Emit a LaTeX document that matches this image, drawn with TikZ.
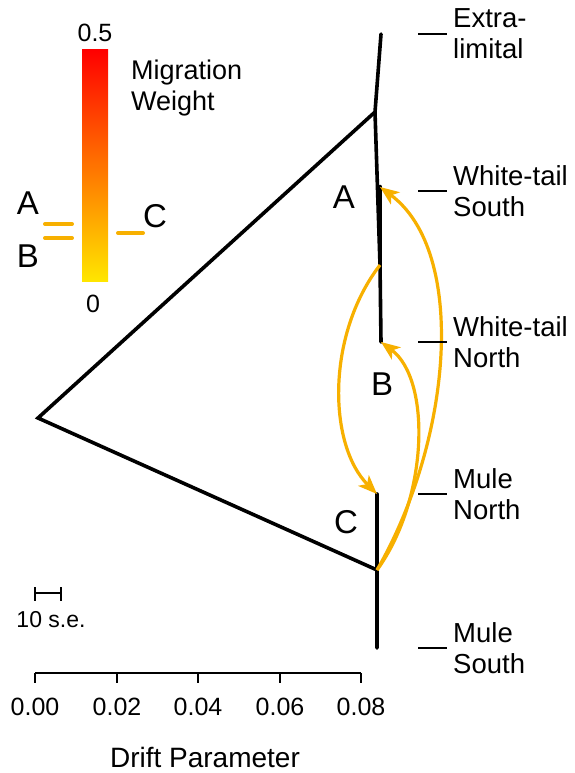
\documentclass[tikz,border=0pt]{standalone}
\usepackage{fontspec}
\setmainfont{Liberation Sans}
\usetikzlibrary{arrows.meta}
\definecolor{migorange}{RGB}{247,176,0}
\definecolor{barred}{RGB}{255,0,0}
\definecolor{barmid}{RGB}{255,118,0}
\definecolor{baryellow}{RGB}{255,230,0}

\begin{document}
\begin{tikzpicture}[x=1pt,y=-1pt,
    branch/.style={line width=3.6pt,line cap=round},
    mig/.style={line width=3.2pt,migorange,-{Stealth[length=19pt,width=15pt,inset=5pt]}},
    tipbar/.style={line width=2.6pt},
    tiplab/.style={anchor=west,align=left,inner sep=0pt,font=\fontsize{27.5}{31}\selectfont},
    letter/.style={inner sep=0pt,font=\fontsize{33}{35}\selectfont}]
        \useasboundingbox (0,0) rectangle (574,773);
        % tree
        \coordinate (root) at (38,418);
        \coordinate (nA) at (375,112);
        \coordinate (nW) at (380,265);
        \coordinate (nC) at (377,570);
        \coordinate (ext) at (381,34);
        \coordinate (wts) at (380,187);
        \coordinate (wtn) at (381,342);
        \coordinate (mn) at (377,494);
        \coordinate (ms) at (377,648);
        \draw[branch] (ext) -- (nA) -- (root) -- (nC) -- (ms);
        \draw[branch] (nA) -- (nW) -- (wtn);
        \draw[branch,line width=4.6pt] (nW) -- (wts);
        \draw[branch] (nC) -- (mn);
        \node[letter] (labA) at (344,197) {A};
        \node[letter] (labB) at (382,384) {B};
        \node[letter] (labC) at (346,522) {C};
        % migration edges
        \draw[mig] (nC) .. controls (452,440) and (468,252) .. (wts);
        \draw[mig] (nC) .. controls (428,500) and (432,380) .. (wtn);
        \draw[mig] (nW) .. controls (326,335) and (328,445) .. (mn);
        % tip labels
        \node[tiplab] (tipext) at (453,34) {Extra-\\limital};
        \node[tiplab] (tipwts) at (453,191) {White-tail\\South};
        \node[tiplab] (tipwtn) at (453,342) {White-tail\\North};
        \node[tiplab] (tipmn) at (453,494) {Mule\\North};
        \node[tiplab] (tipms) at (453,648) {Mule\\South};
        \foreach \t in {tipext,tipwts,tipwtn,tipmn,tipms}
          \draw[tipbar] ([xshift=-35pt]\t.west) -- ([xshift=-6pt]\t.west);
        % colour bar
        \shade[top color=barred,middle color=barmid,bottom color=baryellow] (82,50) rectangle (108,281);
        \node[font=\fontsize{25}{30}\selectfont] (barmax) at (95,33) {0.5};
        \node[font=\fontsize{25}{30}\selectfont] (barmin) at (93,304) {0};
        \node[tiplab,font=\fontsize{27}{31}\selectfont] (bartitle) at (131,88) {Migration\\Weight};
        \node[letter] (legA) at (28,203) {A};
        \node[letter] (legB) at (28,256) {B};
        \node[letter] (legC) at (155,216) {C};
        \draw[line width=4pt,line cap=round,migorange] (45,224) -- (72,224);
        \draw[line width=4pt,line cap=round,migorange] (45,238) -- (72,238);
        \draw[line width=4pt,line cap=round,migorange] (118,233) -- (143,233);
        % scale bar
        \draw[line width=1.2pt] (35,593) -- (61,593);
        \draw[line width=1.2pt] (35,587) -- (35,601) (61,587) -- (61,601);
        \node[font=\fontsize{23}{26}\selectfont] (se) at (51,620) {10 s.e.};
        % axis
        \draw[line width=1.2pt] (35,673) -- (361,673);
        \foreach \v/\x in {0.00/35,0.02/117,0.04/198,0.06/280,0.08/361}{
          \draw[line width=1.2pt] (\x,673) -- (\x,683);
          \node[font=\fontsize{25}{30}\selectfont] at (\x,707) {\v};
        }
        \node[font=\fontsize{28}{32}\selectfont] (xlab) at (205,757) {Drift Parameter};
      \end{tikzpicture}
\end{document}
